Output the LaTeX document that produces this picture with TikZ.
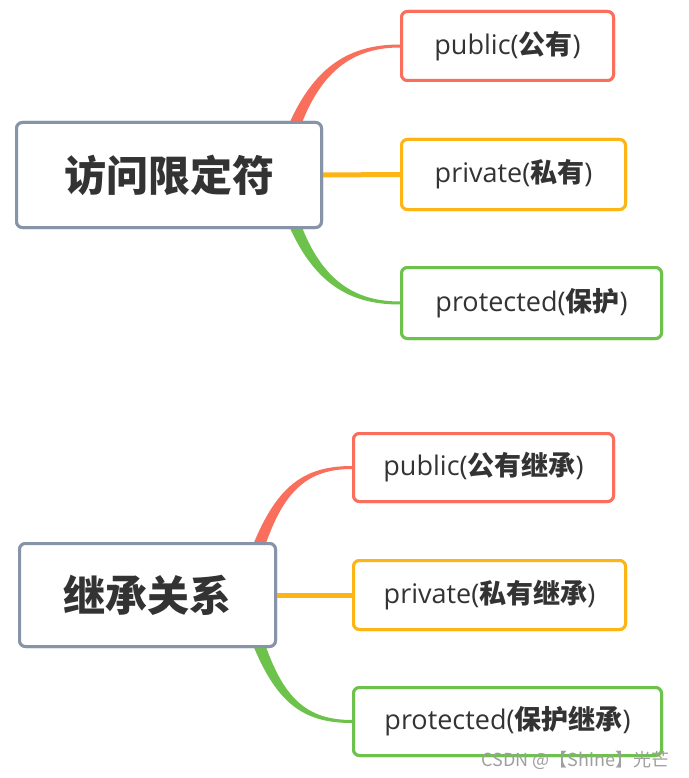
\documentclass[tikz,border=0pt]{standalone}
\usepackage{fontspec}
\setmainfont{Open Sans}
\newfontfamily\cjk{Noto Sans CJK SC}
\usetikzlibrary{calc}
\definecolor{cred}{HTML}{FA6E5C}
\definecolor{cyel}{HTML}{FDB515}
\definecolor{cgrn}{HTML}{6CC24A}
\definecolor{cgry}{HTML}{8793A6}
\definecolor{ctxt}{HTML}{333333}
\newcommand{\curvebranch}[4]{%
  \fill[#1] ($(#2)+(-7,0)$) .. controls ($(#2)+(20,#4*80)$) and ($(#3)+(-55,#4*1.5)$) .. ($(#3)+(0,#4*1.5)$)
    -- ($(#3)+(0,-#4*1.5)$) .. controls ($(#3)+(-50,-#4*1.5)$) and ($(#2)+(28,#4*76)$) .. ($(#2)+(7,0)$) -- cycle;}
\begin{document}
\begin{tikzpicture}[x=1pt,y=-1pt,
  box/.style={draw, line width=3pt, rounded corners=6pt, fill=white, text=ctxt, inner sep=0pt, font=\fontsize{27}{32}\selectfont},
  rootbox/.style={box, draw=cgry, font=\cjk\bfseries\fontsize{42}{48}\selectfont},
  redbox/.style={box, draw=cred},
  yelbox/.style={box, draw=cyel},
  grnbox/.style={box, draw=cgrn}]
\useasboundingbox (0,0) rectangle (688,778);
% nodes (placed first for anchors, redrawn on top later)
\path
  node[rootbox, minimum width=305, minimum height=105] (r1) at (169,175) {访问限定符}
  node[redbox, minimum width=212, minimum height=69] (c1) at (507.5,46) {public({\cjk\bfseries 公有})}
  node[yelbox, minimum width=224, minimum height=70] (c2) at (513.5,174.5) {private({\cjk\bfseries 私有})}
  node[grnbox, minimum width=260, minimum height=71] (c3) at (531.5,303) {protected({\cjk\bfseries 保护})}
  node[rootbox, minimum width=256, minimum height=103] (r2) at (147.5,595) {继承关系}
  node[redbox, minimum width=260, minimum height=68] (d1) at (483.5,467.5) {public({\cjk\bfseries 公有继承})}
  node[yelbox, minimum width=272, minimum height=69] (d2) at (489.5,595) {private({\cjk\bfseries 私有继承})}
  node[grnbox, minimum width=308, minimum height=68] (d3) at (507.5,721.5) {protected({\cjk\bfseries 保护继承})};
% connectors
\coordinate (s1) at ($(r1.east)+(-37,-25)$);
\coordinate (s3) at ($(r1.east)+(-37,25)$);
\coordinate (t1) at ($(r2.east)+(-27,-23)$);
\coordinate (t3) at ($(r2.east)+(-27,23)$);
\curvebranch{cred}{s1}{c1.west}{-1}
\curvebranch{cgrn}{s3}{c3.west}{1}
\curvebranch{cred}{t1}{d1.west}{-1}
\curvebranch{cgrn}{t3}{d3.west}{1}
\draw[cyel, line width=5pt] (r1.east) -- (c2.west);
\draw[cyel, line width=5pt] (r2.east) -- (d2.west);
% redraw nodes on top
\path
  node[rootbox, minimum width=305, minimum height=105] at (r1.center) {访问限定符}
  node[redbox, minimum width=212, minimum height=69] at (c1.center) {public({\cjk\bfseries 公有})}
  node[yelbox, minimum width=224, minimum height=70] at (c2.center) {private({\cjk\bfseries 私有})}
  node[grnbox, minimum width=260, minimum height=71] at (c3.center) {protected({\cjk\bfseries 保护})}
  node[rootbox, minimum width=256, minimum height=103] at (r2.center) {继承关系}
  node[redbox, minimum width=260, minimum height=68] at (d1.center) {public({\cjk\bfseries 公有继承})}
  node[yelbox, minimum width=272, minimum height=69] at (d2.center) {private({\cjk\bfseries 私有继承})}
  node[grnbox, minimum width=308, minimum height=68] at (d3.center) {protected({\cjk\bfseries 保护继承})};
\node[text=gray!75, font=\cjk\fontsize{18}{20}\selectfont, anchor=east] (wm) at (673,760) {CSDN @【Shine】光芒};
\end{tikzpicture}
\end{document}
